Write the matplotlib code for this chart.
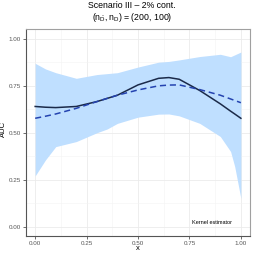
"""AUC curve with band: Scenario III, 2% contamination."""

import matplotlib

matplotlib.use("Agg")
import matplotlib.pyplot as plt
import numpy as np

plt.rcParams.update(
    {
        "font.family": ["Liberation Sans", "DejaVu Sans"],
        "mathtext.fontset": "custom",
        "mathtext.rm": "Liberation Sans",
        "mathtext.it": "Liberation Sans",
    }
)

# values
x = [0.0, 0.05, 0.1, 0.2, 0.3, 0.35, 0.4, 0.5, 0.6, 0.65, 0.7, 0.8, 0.9, 0.95, 0.97, 1.0]
band_hi = [0.87, 0.84, 0.82, 0.79, 0.81, 0.815, 0.82, 0.85, 0.876, 0.88, 0.888, 0.906, 0.918, 0.905, 0.915, 0.93]
band_lo = [0.27, 0.355, 0.426, 0.453, 0.50, 0.52, 0.55, 0.583, 0.599, 0.60, 0.59, 0.55, 0.48, 0.40, 0.32, 0.15]
kernel = [0.64, 0.636, 0.634, 0.64, 0.666, 0.683, 0.70, 0.755, 0.79, 0.794, 0.785, 0.725, 0.654, 0.615, 0.60, 0.577]
true_auc = [0.577, 0.588, 0.60, 0.63, 0.666, 0.683, 0.70, 0.728, 0.75, 0.754, 0.755, 0.73, 0.70, 0.68, 0.672, 0.66]

major = [0.0, 0.25, 0.5, 0.75, 1.0]
minor = [0.125, 0.375, 0.625, 0.875]
tick_labels = ["0.00", "0.25", "0.50", "0.75", "1.00"]

fig = plt.figure(figsize=(2.54, 2.54), dpi=100)
ax = fig.add_axes([0.102, 0.071, 0.882, 0.815])

ax.fill_between(x, band_lo, band_hi, color="#bfdfff", lw=0, zorder=2)
ax.plot(x, kernel, color="#1b2a49", lw=1.1, zorder=3)
ax.plot(x, true_auc, color="#2443b0", lw=1.1, ls=(0, (4, 2.5)), zorder=3)

ax.set_xlim(-0.045, 1.044)
ax.set_ylim(-0.05, 1.053)
ax.set_xticks(major)
ax.set_yticks(major)
ax.set_xticks(minor, minor=True)
ax.set_yticks(minor, minor=True)
ax.set_xticklabels(tick_labels)
ax.set_yticklabels(tick_labels)
ax.grid(which="major", color="#ebebeb", lw=0.6, zorder=0)
ax.grid(which="minor", color="#f3f3f3", lw=0.4, zorder=0)
ax.set_axisbelow(True)
ax.tick_params(which="major", labelsize=4.5, labelcolor="#555555", color="#333333",
               length=2, width=0.5, pad=1.5)
ax.tick_params(which="minor", length=0)
for side in ("top", "right"):
    ax.spines[side].set_color("#a0a0a0")
    ax.spines[side].set_linewidth(0.8)
for side in ("left", "bottom"):
    ax.spines[side].set_color("#555555")
    ax.spines[side].set_linewidth(0.8)

ax.set_xlabel("x", fontsize=5.5)
ax.set_ylabel("AUC", fontsize=5.5)
ax.xaxis.set_label_coords(0.5, -0.045)
ax.yaxis.set_label_coords(-0.084, 0.515)
ax.text(0.955, 0.02, "Kernel estimator", fontsize=4, ha="right", va="center", zorder=4)

fig.text(132 / 254, 1 - 6 / 254, "Scenario III \u2013 2% cont.", fontsize=6.3,
         ha="center", va="center")
fig.text(132 / 254, 1 - 17.5 / 254, r"$(\mathrm{n}_{\bar{\mathrm{D}}}, \mathrm{n}_{\mathrm{D}})$ = (200, 100)",
         fontsize=6.3, ha="center", va="center")

fig.savefig("out.png", dpi=100)
